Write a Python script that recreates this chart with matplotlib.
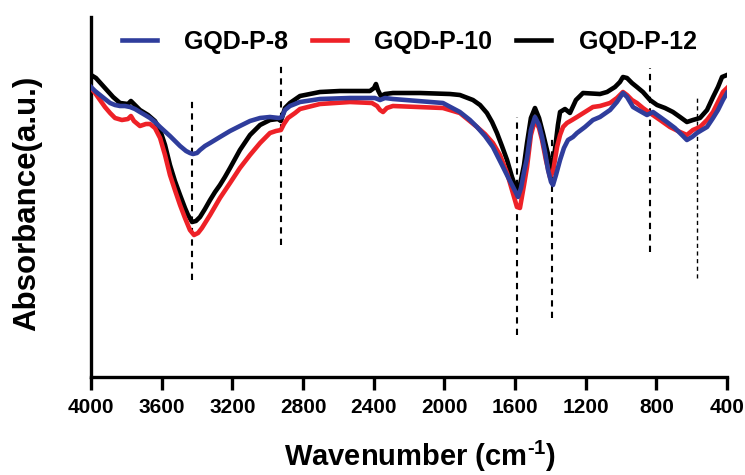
import matplotlib
matplotlib.use("Agg")
import matplotlib.pyplot as plt

plt.rcParams["font.family"] = ["Liberation Sans", "DejaVu Sans"]
plt.rcParams["font.weight"] = "bold"
plt.rcParams["mathtext.fontset"] = "custom"
plt.rcParams["mathtext.rm"] = "Liberation Sans:bold"
plt.rcParams["mathtext.bf"] = "Liberation Sans:bold"

# =========================
# DATA (arbitrary absorbance units)
# =========================
wn_p12 = [4000, 3972, 3921, 3875, 3836, 3791, 3774, 3757, 3723, 3677, 3638, 3609, 3581, 3553,
          3525, 3496, 3468, 3451, 3428, 3406, 3383, 3355, 3326, 3298, 3270, 3242, 3213, 3157,
          3100, 3043, 2987, 2942, 2925, 2902, 2874, 2817, 2704, 2591, 2421, 2398, 2387, 2376,
          2359, 2336, 2291, 2138, 1968, 1912, 1838, 1798, 1759, 1730, 1702, 1674, 1645, 1617,
          1589, 1572, 1549, 1532, 1510, 1487, 1464, 1442, 1419, 1402, 1391, 1374, 1357, 1345,
          1317, 1289, 1255, 1215, 1119, 1079, 1034, 1006, 989, 966, 938, 910, 876, 836, 796,
          751, 706, 666, 627, 593, 553, 513, 479, 451, 428, 400]
abs_p12 = [302, 299, 289, 280, 274, 273, 276, 273, 267, 262, 256, 247, 232, 212,
           196, 182, 169, 162, 155, 156, 160, 168, 177, 185, 192, 200, 209, 227,
           242, 252, 257, 258, 256, 269, 274, 281, 285, 286, 286, 289, 293, 287,
           281, 283, 284, 284, 283, 282, 277, 272, 264, 255, 244, 231, 217, 200,
           186, 192, 212, 234, 259, 269, 259, 244, 227, 215, 205, 227, 252, 265,
           268, 264, 277, 284, 283, 285, 290, 295, 300, 299, 294, 290, 285, 277, 272,
           269, 265, 260, 255, 257, 259, 267, 280, 290, 300, 302]

wn_p10 = [4000, 3977, 3949, 3921, 3892, 3864, 3825, 3791, 3774, 3757, 3723, 3689, 3666, 3638,
          3609, 3581, 3553, 3525, 3496, 3468, 3440, 3417, 3394, 3372, 3326, 3270, 3213, 3157,
          3100, 3043, 2987, 2953, 2925, 2908, 2885, 2845, 2817, 2704, 2534, 2410, 2381, 2364,
          2347, 2325, 2291, 2008, 1912, 1815, 1770, 1725, 1685, 1645, 1617, 1589, 1572, 1549,
          1532, 1510, 1487, 1464, 1447, 1425, 1402, 1385, 1362, 1345, 1328, 1306, 1277, 1249,
          1204, 1159, 1119, 1062, 1023, 989, 966, 938, 910, 876, 836, 779, 723, 666, 627, 593,
          553, 513, 479, 451, 423, 400]
abs_p10 = [289, 284, 277, 270, 264, 259, 257, 258, 261, 256, 251, 253, 253, 249,
           239, 222, 202, 187, 172, 159, 147, 142, 144, 149, 162, 179, 194, 209,
           222, 234, 244, 246, 247, 253, 259, 264, 268, 273, 275, 274, 271, 267,
           265, 269, 271, 269, 264, 250, 243, 234, 222, 204, 187, 170, 169, 192,
           210, 242, 257, 249, 237, 217, 200, 205, 230, 242, 250, 254, 257, 260,
           265, 270, 271, 274, 279, 285, 282, 277, 274, 269, 264, 257, 250, 245, 242, 247,
           250, 257, 265, 275, 285, 289]

wn_p8 = [4000, 3977, 3949, 3921, 3892, 3864, 3836, 3808, 3779, 3751, 3723, 3694, 3666, 3638,
         3609, 3553, 3496, 3462, 3440, 3423, 3400, 3383, 3355, 3326, 3270, 3213, 3157, 3100,
         3043, 2987, 2936, 2919, 2902, 2874, 2817, 2704, 2534, 2393, 2364, 2336, 2291, 2008,
         1912, 1855, 1815, 1770, 1725, 1668, 1640, 1611, 1583, 1566, 1549, 1532, 1510, 1487,
         1464, 1447, 1430, 1413, 1396, 1385, 1368, 1345, 1323, 1300, 1272, 1249, 1204, 1159,
         1119, 1062, 1023, 989, 966, 932, 893, 853, 819, 779, 740, 695, 655, 627, 598, 570,
         542, 513, 479, 451, 423, 400]
abs_p8 = [290, 286, 282, 278, 274, 272, 271, 271, 270, 268, 265, 262, 259, 255,
          250, 241, 231, 226, 224, 223, 224, 227, 231, 234, 240, 246, 251, 256,
          259, 260, 259, 260, 267, 271, 275, 278, 279, 279, 277, 279, 278, 274,
          265, 257, 250, 241, 230, 210, 200, 190, 180, 189, 205, 219, 247, 260,
          252, 240, 225, 207, 195, 192, 202, 217, 229, 237, 240, 244, 250, 257,
          260, 267, 275, 284, 280, 270, 266, 262, 265, 260, 255, 249, 242, 237, 240, 244,
          247, 250, 259, 267, 277, 284]

# marked peaks: position, lower and upper end of the dashed guide
peak_wn = [3428, 2925, 1590, 1390, 836, 570]
peak_lo = [97, 132, 42, 59, 125, 99]
peak_hi = [280, 314, 260, 242, 309, 280]
peak_lw = [1.5, 1.5, 1.5, 1.5, 1.5, 1.0]

x_ticks = [4000, 3600, 3200, 2800, 2400, 2000, 1600, 1200, 800, 400]

# =========================
# PLOT
# =========================
fig = plt.figure(figsize=(7.45, 4.75), dpi=100)
ax = fig.add_axes([91 / 745, 98 / 475, 636 / 745, 360 / 475])

for x, lo, hi, lw in zip(peak_wn, peak_lo, peak_hi, peak_lw):
    ax.vlines(x, lo, hi, colors="black", linestyles=(0, (3, 2.5)), linewidth=lw, zorder=1)

ax.plot(wn_p12, abs_p12, color="black", lw=3.3, label="GQD-P-12", zorder=2)
ax.plot(wn_p10, abs_p10, color="#ee2127", lw=3.3, label="GQD-P-10", zorder=3)
ax.plot(wn_p8, abs_p8, color="#2f3d9c", lw=3.3, label="GQD-P-8", zorder=4)

ax.set_xlim(4000, 400)
ax.set_ylim(0, 360)
ax.set_xticks(x_ticks)
ax.set_yticks([])

for side in ["top", "right"]:
    ax.spines[side].set_visible(False)
for side in ["left", "bottom"]:
    ax.spines[side].set_linewidth(2.4)

ax.tick_params(axis="x", direction="out", length=9, width=2.4, labelsize=15, pad=6)
for lab in ax.get_xticklabels():
    lab.set_fontweight("bold")

ax.set_xlabel("Wavenumber (cm$^{\\text{-}1}$)", fontsize=21, fontweight="bold")
ax.xaxis.set_label_coords(0.517, -0.172)
ax.set_ylabel("Absorbance(a.u.)", fontsize=22.5, fontweight="bold")
ax.yaxis.set_label_coords(-0.076, 0.483)

handles, labels = ax.get_legend_handles_labels()
ax.legend(handles[::-1], labels[::-1], loc="center", bbox_to_anchor=(0.5, 0.93), ncol=3,
          frameon=False, handlelength=1.4, columnspacing=0.95, handletextpad=1.1,
          prop={"weight": "bold", "size": 18})

fig.savefig("out.png", dpi=100)
